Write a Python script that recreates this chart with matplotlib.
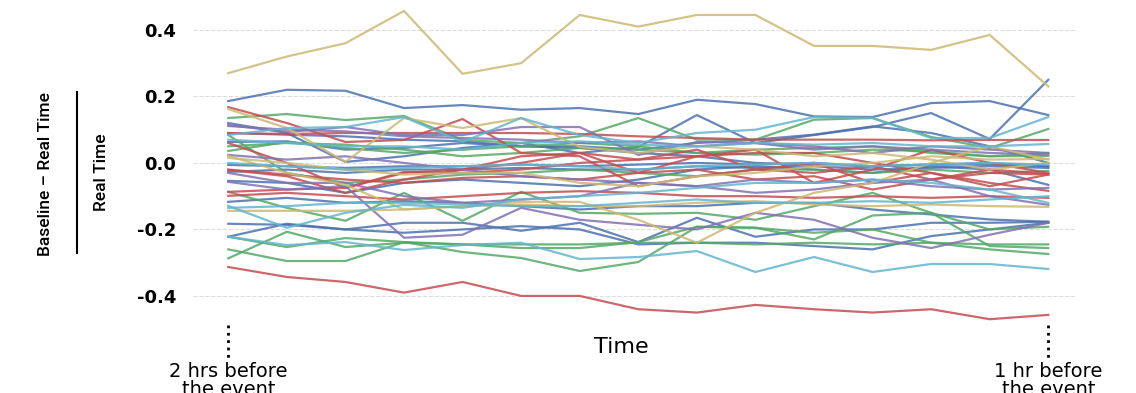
import matplotlib
matplotlib.use("Agg")
import matplotlib.pyplot as plt
import matplotlib.transforms as mtransforms
from matplotlib.lines import Line2D

# seaborn "deep" palette
BLUE = "#4C72B0"
GREEN = "#55A868"
RED = "#C44E52"
PURPLE = "#8172B2"
YELLOW = "#CCB974"
CYAN = "#64B5CD"

# 15 time steps between 2 hrs and 1 hr before the event
steps = list(range(15))

yellow_series = [
    [0.27, 0.32, 0.36, 0.457, 0.268, 0.30, 0.445, 0.41, 0.445, 0.445, 0.352, 0.352, 0.34, 0.385, 0.23],
    [0.162, 0.105, 0.003, 0.135, 0.105, 0.135, 0.048, 0.03, 0.05, 0.04, 0.02, 0.03, 0.01, -0.02, 0.0],
    [0.021, -0.03, -0.066, -0.14, -0.13, -0.117, -0.117, -0.171, -0.24, -0.15, -0.09, -0.06, 0.0, 0.05, 0.01],
    [0.015, 0.0, -0.02, -0.035, -0.03, -0.03, -0.06, -0.07, -0.04, -0.03, -0.01, 0.0, 0.02, 0.01, 0.012],
    [-0.144, -0.144, -0.144, -0.14, -0.13, -0.125, -0.13, -0.13, -0.12, -0.115, -0.125, -0.13, -0.125, -0.13, -0.132],
]
blue_series = [
    [0.186, 0.22, 0.217, 0.165, 0.174, 0.16, 0.165, 0.147, 0.19, 0.177, 0.14, 0.138, 0.18, 0.186, 0.144],
    [0.12, 0.09, 0.003, 0.02, 0.045, 0.06, 0.03, 0.048, 0.144, 0.06, 0.084, 0.108, 0.15, 0.072, 0.25],
    [0.063, 0.065, 0.04, 0.045, 0.06, 0.05, 0.05, 0.04, 0.06, 0.07, 0.085, 0.11, 0.09, 0.05, 0.0],
    [-0.006, -0.01, -0.015, -0.01, -0.01, -0.005, -0.01, -0.005, 0.0, -0.005, 0.0, -0.01, -0.005, -0.005, -0.01],
    [-0.027, -0.02, -0.03, -0.02, -0.02, -0.015, -0.02, -0.02, -0.01, -0.015, -0.01, -0.02, -0.015, -0.01, -0.015],
    [-0.054, -0.06, -0.09, -0.06, -0.05, -0.06, -0.07, -0.05, -0.02, -0.01, -0.02, -0.03, -0.01, -0.02, -0.066],
    [-0.117, -0.105, -0.12, -0.115, -0.12, -0.13, -0.14, -0.13, -0.13, -0.12, -0.12, -0.14, -0.155, -0.17, -0.177],
    [-0.183, -0.186, -0.2, -0.18, -0.18, -0.204, -0.18, -0.238, -0.165, -0.222, -0.2, -0.2, -0.18, -0.18, -0.177],
    [-0.222, -0.183, -0.2, -0.21, -0.2, -0.19, -0.2, -0.245, -0.24, -0.24, -0.25, -0.26, -0.22, -0.2, -0.18],
    [0.09, 0.085, 0.08, 0.07, 0.065, 0.05, 0.045, 0.03, 0.02, 0.0, -0.005, -0.01, -0.005, 0.0, -0.01],
]
red_series = [
    [-0.313, -0.343, -0.358, -0.39, -0.358, -0.40, -0.40, -0.44, -0.45, -0.427, -0.44, -0.45, -0.44, -0.47, -0.457],
    [0.168, 0.12, 0.063, 0.069, 0.132, 0.03, 0.02, -0.07, -0.04, -0.02, 0.0, -0.06, -0.03, -0.07, -0.035],
    [0.09, 0.087, 0.09, 0.09, 0.09, 0.09, 0.087, 0.08, 0.075, 0.07, 0.07, 0.07, 0.068, 0.069, 0.069],
    [0.06, 0.0, -0.075, -0.03, -0.02, 0.0, 0.03, 0.01, 0.04, -0.02, -0.03, -0.01, -0.05, -0.02, -0.033],
    [-0.021, -0.04, -0.09, -0.05, -0.02, 0.02, 0.03, -0.03, -0.02, -0.05, -0.04, -0.08, -0.05, -0.03, -0.035],
    [-0.087, -0.08, -0.075, -0.027, -0.03, -0.02, 0.0, 0.01, 0.02, 0.03, 0.03, 0.0, -0.03, -0.06, -0.084],
    [-0.099, -0.09, -0.1, -0.11, -0.1, -0.09, -0.085, -0.09, -0.1, -0.1, -0.105, -0.1, -0.105, -0.1, -0.105],
    [-0.02, -0.035, -0.05, -0.06, -0.045, -0.04, -0.05, -0.03, 0.02, 0.04, -0.06, -0.02, 0.04, 0.0, -0.03],
]
green_series = [
    [0.135, 0.147, 0.129, 0.141, 0.069, 0.06, 0.08, 0.135, 0.07, 0.07, 0.13, 0.135, 0.078, 0.045, 0.102],
    [0.036, 0.063, 0.045, 0.03, 0.04, 0.05, 0.06, 0.05, 0.03, 0.04, 0.045, 0.05, 0.03, 0.02, 0.021],
    [0.084, -0.03, -0.06, -0.05, -0.035, -0.03, -0.02, -0.03, -0.04, -0.02, -0.02, -0.03, -0.02, -0.03, -0.024],
    [0.05, 0.06, 0.055, 0.04, 0.02, 0.03, 0.045, 0.04, 0.03, 0.025, 0.03, 0.04, 0.035, 0.02, 0.03],
    [-0.087, -0.135, -0.174, -0.09, -0.174, -0.087, -0.15, -0.153, -0.15, -0.171, -0.13, -0.09, -0.15, -0.25, -0.256],
    [-0.222, -0.253, -0.226, -0.238, -0.245, -0.245, -0.245, -0.24, -0.24, -0.245, -0.24, -0.245, -0.24, -0.245, -0.245],
    [-0.26, -0.295, -0.295, -0.238, -0.268, -0.286, -0.325, -0.298, -0.192, -0.195, -0.21, -0.2, -0.24, -0.26, -0.274],
    [-0.287, -0.207, -0.253, -0.24, -0.245, -0.256, -0.256, -0.238, -0.192, -0.195, -0.23, -0.158, -0.15, -0.2, -0.192],
]
cyan_series = [
    [-0.222, -0.247, -0.238, -0.262, -0.247, -0.24, -0.289, -0.283, -0.265, -0.328, -0.283, -0.328, -0.304, -0.304, -0.319],
    [0.084, 0.105, 0.108, 0.138, 0.063, 0.135, 0.084, 0.06, 0.09, 0.1, 0.138, 0.135, 0.075, 0.075, 0.138],
    [-0.129, -0.195, -0.15, -0.126, -0.135, -0.11, -0.1, -0.09, -0.075, -0.06, -0.06, -0.05, -0.06, -0.08, -0.12],
    [-0.135, -0.13, -0.12, -0.12, -0.125, -0.13, -0.13, -0.12, -0.11, -0.12, -0.12, -0.115, -0.12, -0.11, -0.1],
    [0.07, 0.06, 0.05, 0.05, 0.04, 0.06, 0.065, 0.055, 0.05, 0.06, 0.055, 0.06, 0.05, 0.05, 0.057],
    [0.0, -0.01, -0.02, -0.015, -0.01, -0.005, -0.01, -0.02, -0.01, -0.005, 0.0, -0.01, -0.005, 0.0, -0.005],
]
purple_series = [
    [0.114, 0.093, 0.108, 0.084, 0.084, 0.108, 0.108, 0.024, 0.063, 0.06, 0.05, 0.03, 0.05, 0.04, 0.03],
    [-0.03, -0.06, -0.06, -0.1, -0.12, -0.11, -0.1, -0.06, -0.07, -0.09, -0.08, -0.06, -0.05, -0.1, -0.126],
    [-0.057, -0.08, -0.07, -0.225, -0.216, -0.135, -0.171, -0.186, -0.2, -0.15, -0.171, -0.225, -0.256, -0.216, -0.18],
    [0.111, 0.1, 0.095, 0.08, 0.075, 0.07, 0.06, 0.065, 0.05, 0.06, 0.04, 0.05, 0.04, 0.03, 0.025],
    [0.024, 0.01, 0.02, 0.0, -0.02, -0.04, -0.05, -0.06, -0.07, -0.05, -0.06, -0.05, -0.07, -0.08, -0.075],
]

yticks = [-0.4, -0.2, 0.0, 0.2, 0.4]

fig = plt.figure(figsize=(11.36, 3.93), dpi=100)
ax = fig.add_axes([0.170, 0.148, 0.776, 0.852])

groups = [
    (blue_series, BLUE), (green_series, GREEN), (red_series, RED),
    (purple_series, PURPLE), (yellow_series, YELLOW), (cyan_series, CYAN),
]
for series_list, color in groups:
    for vals in series_list:
        ax.plot(steps, vals, color=color, lw=1.6, alpha=0.85)

ax.set_xlim(-0.6, 14.45)
ax.set_ylim(-0.517, 0.49)
ax.set_yticks(yticks)
ax.set_yticklabels(["%.1f" % v for v in yticks], fontsize=13, fontweight="bold")
ax.set_xticks([])
ax.tick_params(axis="y", length=0, pad=12)
for s in ax.spines.values():
    s.set_visible(False)
ax.yaxis.grid(True, color="#dddddd", linestyle="--", lw=0.8)
ax.set_axisbelow(True)

# dotted markers under first and last time step
trans = mtransforms.blended_transform_factory(ax.transData, fig.transFigure)
for xv in [steps[0], steps[-1]]:
    ax.plot([xv, xv], [0.173, 0.084], transform=trans, clip_on=False,
            color="black", ls=":", lw=2)

fig.text(0.547, 0.117, "Time", ha="center", va="center", fontsize=16)
ax.text(steps[0], 0.078, "2 hrs before\nthe event", transform=trans,
        ha="center", va="top", fontsize=14, linespacing=0.9)
ax.text(steps[-1], 0.078, "1 hr before\nthe event", transform=trans,
        ha="center", va="top", fontsize=14, linespacing=0.9)

# y label drawn as a fraction
cond = ["Roboto", "DejaVu Sans"]
fig.text(0.040, 0.557, "Baseline \u2013 Real Time", rotation=90,
         ha="center", va="center", fontsize=12.5, family=cond, fontweight="medium")
fig.text(0.089, 0.562, "Real Time", rotation=90,
         ha="center", va="center", fontsize=12.5, family=cond, fontweight="medium")
fig.add_artist(Line2D([0.068, 0.068], [1 - 253 / 393, 1 - 92 / 393],
                      transform=fig.transFigure, color="black", lw=1.5))

fig.savefig("out.png", dpi=100, facecolor="white")
